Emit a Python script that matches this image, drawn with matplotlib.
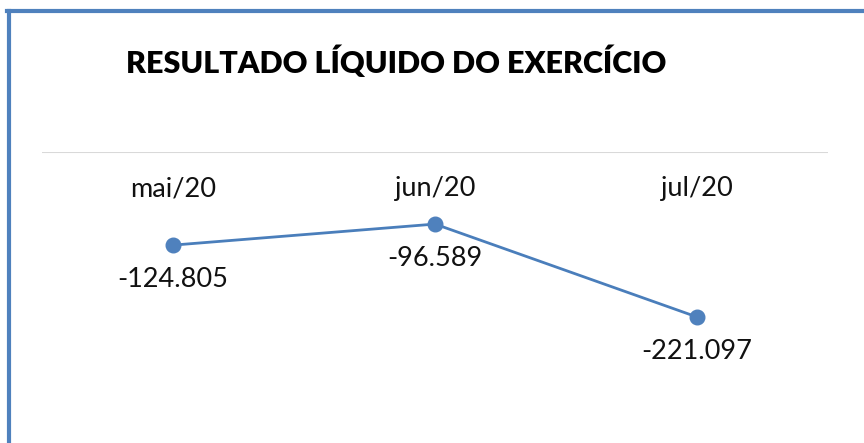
import matplotlib.pyplot as plt
import matplotlib.transforms as mtransforms
from matplotlib.lines import Line2D

# data
months = ['mai/20', 'jun/20', 'jul/20']
resultado = [-124805, -96589, -221097]
value_labels = ['-124.805', '-96.589', '-221.097']

W, H = 864, 443
fig = plt.figure(figsize=(W / 100, H / 100), dpi=100)
fig.patch.set_facecolor('white')

# plot area: zero line at y=152px, runs to bottom of picture
ax = fig.add_axes([42 / W, 0, (828 - 42) / W, 1 - 152 / H])
x = list(range(len(months)))
ax.plot(x, resultado, color='#4A7EBB', lw=2, marker='o', ms=10.5,
        markerfacecolor='#4F81BD', markeredgecolor='#4F81BD', zorder=3)
ax.set_xlim(-0.5, len(months) - 0.5)
ax.set_ylim(-390000, 0)
ax.axhline(0, color='#D9D9D9', lw=1.5, zorder=1)
for s in ax.spines.values():
    s.set_visible(False)
ax.set_xticks([])
ax.set_yticks([])

fnt = ['Lato', 'DejaVu Sans']
# category labels just below the axis line
trans = mtransforms.blended_transform_factory(ax.transData, ax.transAxes)
for i, m in enumerate(months):
    ax.text(i, 1 - 24 / 291, m, transform=trans, ha='center', va='top',
            fontsize=19.5, family=fnt, color='#111111')

# data labels under points
for i, (v, lab) in enumerate(zip(resultado, value_labels)):
    ax.annotate(lab, (i, v), xytext=(0, -16), textcoords='offset points',
                ha='center', va='top', fontsize=19.5, family=fnt, color='#111111')

fig.text(396 / W, 1 - 62 / H, 'RESULTADO LÍQUIDO DO EXERCÍCIO', ha='center',
         va='center', fontsize=22, fontweight='heavy', family=fnt,
         color='black')

# blue frame (top and left)
fig.add_artist(Line2D([8.5 / W, 8.5 / W], [0, 1 - 11 / H], color='#4F81BD', lw=3))
fig.add_artist(Line2D([7 / W, 1], [1 - 11 / H, 1 - 11 / H], color='#4F81BD', lw=3))

fig.savefig('out.png', dpi=100)
